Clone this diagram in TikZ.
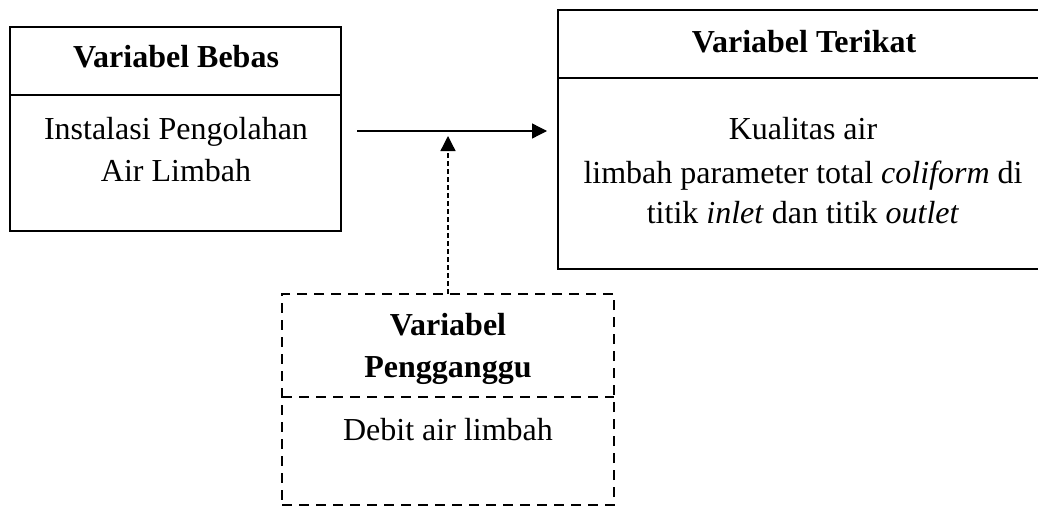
\documentclass[tikz,border=0pt]{standalone}
\usepackage{fontspec}
\setmainfont{Liberation Serif}
\usetikzlibrary{arrows.meta}
\tikzset{
  boxline/.style={line width=2.4pt},
  solidbox/.style={draw, boxline, rectangle, inner sep=0pt, outer sep=0pt},
  dashbox/.style={draw, line width=2.6pt, dash pattern=on 10pt off 7pt, rectangle, inner sep=0pt, outer sep=0pt},
  dashdiv/.style={line width=2.6pt, dash pattern=on 10pt off 7pt},
  txt/.style={anchor=base, inner sep=0pt, font=\fontsize{32}{42}\selectfont},
  btxt/.style={txt, font=\fontsize{32}{42}\selectfont\bfseries},
  arr/.style={line width=1.3pt, -{Triangle[length=15pt,width=15pt]}},
  darr/.style={line width=1.3pt, dash pattern=on 5pt off 3pt, -{Triangle[length=15pt,width=15pt]}}
}
\begin{document}
\begin{tikzpicture}[x=1pt,y=-1pt]
\clip (0,0) rectangle (1038,506);
\fill[white] (0,0) rectangle (1038,506);
% left box
\node[solidbox, minimum width=331pt, minimum height=204pt] (bebas) at (175.5,129) {};
\draw[boxline] (10,95) -- (341,95);
\node[btxt] (t1) at (176,67) {Variabel Bebas};
\node[txt] (b1) at (176,139) {Instalasi Pengolahan};
\node[txt] (b2) at (176,181) {Air Limbah};
% right box
\node[solidbox, minimum width=490pt, minimum height=259pt] (terikat) at (803,139.5) {};
\draw[boxline] (558,78) -- (1048,78);
\node[btxt] (t2) at (804,52) {Variabel Terikat};
\node[txt] (r1) at (803,139) {Kualitas air};
\node[txt] (r2) at (803,183) {limbah parameter total \textit{coliform} di};
\node[txt] (r3) at (803,223) {titik \textit{inlet} dan titik \textit{outlet}};
% dashed box
\node[dashbox, minimum width=332pt, minimum height=211pt] (ganggu) at (448,399.5) {};
\draw[dashdiv] (282,397) -- (614,397);
\node[btxt] (t3) at (448,335) {Variabel};
\node[btxt] (t4) at (448,377) {Pengganggu};
\node[txt] (d1) at (448,440) {Debit air limbah};
% arrows
\coordinate (a1) at (357,131);
\coordinate (a2) at (547,131);
\draw[arr] (a1) -- (a2);
\coordinate (a3) at (448,136);
\draw[darr] (ganggu.north -| a3) -- (a3);
\end{tikzpicture}
\end{document}
